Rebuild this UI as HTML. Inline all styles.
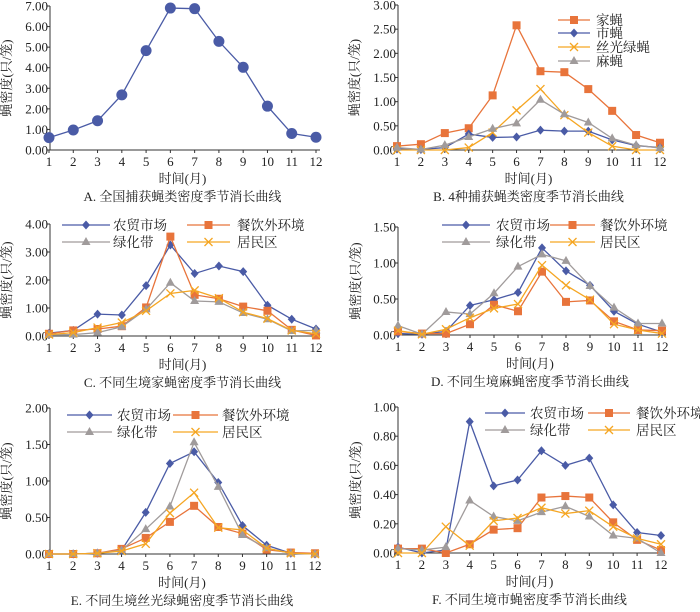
<!DOCTYPE html>
<html><head><meta charset="utf-8"><style>
body{margin:0;background:#fff;width:700px;height:607px;overflow:hidden}
text{font-family:"Liberation Serif","Noto Serif CJK SC",serif;fill:#222}
</style></head><body>
<svg id="c" width="700" height="607"></svg>
<script>
const months=[1,2,3,4,5,6,7,8,9,10,11,12];
const aAll=[0.6,0.97,1.42,2.68,4.83,6.9,6.87,5.28,4.02,2.13,0.8,0.62];
const bHouse=[0.08,0.12,0.35,0.45,1.13,2.58,1.63,1.61,1.26,0.81,0.31,0.15];
const bMarket=[0.02,0.01,0.05,0.33,0.26,0.27,0.41,0.39,0.39,0.21,0.09,0.05];
const bGreen=[0,0,0,0.05,0.36,0.82,1.26,0.72,0.36,0.08,0,0];
const bFlesh=[0.05,0.01,0.1,0.27,0.44,0.55,1.04,0.74,0.57,0.24,0.1,0.04];
const cMarket=[0.1,0.2,0.78,0.75,1.8,3.25,2.23,2.5,2.3,1.1,0.6,0.25];
const cFood=[0.08,0.2,0.25,0.35,1.02,3.55,1.47,1.33,1.05,0.9,0.22,0.02];
const cBelt=[0.05,0.05,0.12,0.33,0.95,1.9,1.25,1.22,0.82,0.6,0.18,0.2];
const cResid=[0.05,0.12,0.3,0.48,0.9,1.52,1.63,1.35,0.85,0.62,0.2,0.08];
const dMarket=[0.02,0.01,0.05,0.41,0.49,0.59,1.21,0.89,0.69,0.33,0.15,0.04];
const dFood=[0.05,0.02,0.02,0.15,0.42,0.33,0.88,0.46,0.48,0.19,0.07,0.06];
const dBelt=[0.13,0.01,0.32,0.29,0.58,0.95,1.12,1.03,0.68,0.38,0.16,0.16];
const dResid=[0.06,0.01,0.08,0.24,0.37,0.43,0.97,0.69,0.49,0.15,0.07,0.02];
const eMarket=[0,0,0.01,0.05,0.57,1.24,1.4,0.98,0.39,0.12,0.01,0];
const eFood=[0,0,0.01,0.07,0.22,0.44,0.66,0.37,0.28,0.06,0.02,0.01];
const eBelt=[0,0,0.01,0.05,0.34,0.65,1.53,0.92,0.26,0.08,0.01,0];
const eResid=[0,0,0.01,0.04,0.14,0.56,0.84,0.36,0.33,0.08,0.01,0];
const fMarket=[0.04,0.0,0.02,0.9,0.46,0.5,0.7,0.6,0.65,0.33,0.14,0.12];
const fFood=[0.03,0.03,0.0,0.06,0.16,0.17,0.38,0.39,0.38,0.21,0.09,0.02];
const fBelt=[0.03,0.02,0.04,0.36,0.25,0.22,0.28,0.32,0.25,0.12,0.1,0.0];
const fResid=[0,0,0.18,0.05,0.22,0.24,0.31,0.27,0.29,0.18,0.1,0.06];
const ticksA=[0,1,2,3,4,5,6,7];
const ticksB=[0,0.5,1,1.5,2,2.5,3];
const ticksC=[0,1,2,3,4];
const ticksD=[0,0.5,1,1.5];
const ticksE=[0,0.5,1,1.5,2];
const ticksF=[0,0.2,0.4,0.6,0.8,1];

const BLUE='#4a5ba6',ORG='#e8743b',GRAY='#a09b9b',YEL='#f5a623';
const NS='http://www.w3.org/2000/svg';
const svg=document.getElementById('c');
function el(t,a,p){const e=document.createElementNS(NS,t);for(const k in a)e.setAttribute(k,a[k]);(p||svg).appendChild(e);return e;}
function marker(g,type,x,y,col,big){
  let m;
  if(type==='circle'){m=el('circle',{cx:x,cy:y,r:big?5.5:4,fill:col},g);}
  else if(type==='square'){m=el('rect',{x:x-4,y:y-4,width:8,height:8,fill:col},g);}
  else if(type==='diamond'){m=el('polygon',{points:`${x},${y-4.5} ${x+4},${y} ${x},${y+4.5} ${x-4},${y}`,fill:col},g);}
  else if(type==='tri'){m=el('polygon',{points:`${x},${y-5} ${x+4.5},${y+3} ${x-4.5},${y+3}`,fill:col},g);}
  else {m=el('path',{d:`M${x-4},${y-4}L${x+4},${y+4}M${x+4},${y-4}L${x-4},${y+4}`,stroke:col,'stroke-width':1.3,fill:'none'},g);}
  return m;
}
function panel(p){
  const g=el('g',{});
  
  
  const X=v=>p.x1+(v-1)*(p.x12-p.x1)/11;
  const Y=v=>p.y0-(v/p.max)*(p.y0-p.yTop);
  const ax=el('path',{d:`M${p.ax},${p.yTop}V${p.y0}H${p.x12+4}`,stroke:'#333','stroke-width':1,fill:'none'},g);
  
  
  p.ticks.forEach(t=>{
    el('line',{x1:p.ax-3,x2:p.ax,y1:Y(t),y2:Y(t),stroke:'#333'},g);
    const tx=el('text',{x:p.ax-2,y:Y(t)+4.5,'text-anchor':'end','font-size':13},g);
    tx.textContent=t.toFixed(2);
    
    
  });
  months.forEach(m=>{
    el('line',{x1:X(m),x2:X(m),y1:p.y0,y2:p.y0+3,stroke:'#333'},g);
    const tx=el('text',{x:X(m),y:p.y0+16,'text-anchor':'middle','font-size':13},g);
    tx.textContent=m;
    
    
  });
  const xt=el('text',{x:(p.x1+p.x12)/2,y:p.y0+33,'text-anchor':'middle','font-size':13},g);
  xt.textContent='时间(月)';
  
  
  const cx=p.x1-38;
  const yt=el('text',{x:0,y:0,'text-anchor':'middle','font-size':13,transform:`translate(${cx},${(p.y0+p.yTop)/2}) rotate(-90)`},g);
  yt.textContent='蝇密度(只/笼)';
  
  
  const cap=el('text',{x:(p.x1+p.x12)/2,y:p.y0+51,'text-anchor':'middle','font-size':13},g);
  cap.textContent=p.caption;
  
  
  p.series.forEach(s=>{
    const sg=el('g',{},g);
    
    
    el('polyline',{points:s.data.map((v,i)=>X(months[i])+','+Y(v)).join(' '),fill:'none',stroke:s.col,'stroke-width':1.3},sg);
    s.data.forEach((v,i)=>{const mk=marker(sg,s.mk,X(months[i]),Y(v),s.col,p.big);
      
      });
    if(s.leg){
      const lg=el('g',{},g);
      
      
      const [lx1,lx2,ly,tx]=s.leg;
      el('line',{x1:lx1,x2:lx2,y1:ly,y2:ly,stroke:s.col,'stroke-width':1.3},lg);
      marker(lg,s.mk,(lx1+lx2)/2,ly,s.col);
      const t=el('text',{x:tx,y:ly+5,'font-size':13.5},lg);
      t.textContent=s.label;
    }
  });
}
panel({name:'panel-a',ax:50,x1:49,x12:316,y0:150,yTop:6,max:7,ticks:ticksA,big:true,caption:'A. 全国捕获蝇类密度季节消长曲线',
  series:[{key:'all',data:aAll,col:BLUE,mk:'circle'}]});
panel({name:'panel-b',ax:398,x1:397,x12:660,y0:150,yTop:5,max:3,ticks:ticksB,caption:'B. 4种捕获蝇类密度季节消长曲线',
  series:[{key:'house',label:'家蝇',data:bHouse,col:ORG,mk:'square',leg:[558,590,20,596]},
  {key:'market',label:'市蝇',data:bMarket,col:BLUE,mk:'diamond',leg:[558,590,33,596]},
  {key:'green',label:'丝光绿蝇',data:bGreen,col:YEL,mk:'x',leg:[558,590,47,596]},
  {key:'flesh',label:'麻蝇',data:bFlesh,col:GRAY,mk:'tri',leg:[558,590,61,596]}]});
function four(m,f,b,r,L){return [
  {key:'market',label:'农贸市场',data:m,col:BLUE,mk:'diamond',leg:[L[0],L[1],L[4],L[2]]},
  {key:'food',label:'餐饮外环境',data:f,col:ORG,mk:'square',leg:[L[5],L[6],L[4],L[7]]},
  {key:'belt',label:'绿化带',data:b,col:GRAY,mk:'tri',leg:[L[0],L[1],L[8],L[2]]},
  {key:'resid',label:'居民区',data:r,col:YEL,mk:'x',leg:[L[5],L[6],L[8],L[7]]}];}
panel({name:'panel-c',ax:50,x1:49,x12:316,y0:336,yTop:224,max:4,ticks:ticksC,caption:'C. 不同生境家蝇密度季节消长曲线',
  series:four(cMarket,cFood,cBelt,cResid,[62,110,113,0,225,187,230,237,242])});
panel({name:'panel-d',ax:398,x1:398,x12:662,y0:335,yTop:227,max:1.5,ticks:ticksD,caption:'D. 不同生境麻蝇密度季节消长曲线',
  series:four(dMarket,dFood,dBelt,dResid,[442,490,496,0,225,550,595,600,242])});
panel({name:'panel-e',ax:50,x1:49,x12:315,y0:554,yTop:408,max:2,ticks:ticksE,caption:'E. 不同生境丝光绿蝇密度季节消长曲线',
  series:four(eMarket,eFood,eBelt,eResid,[67,112,117,0,415,173,218,222,432])});
panel({name:'panel-f',ax:398,x1:398,x12:661,y0:553,yTop:407,max:1,ticks:ticksF,caption:'F. 不同生境市蝇密度季节消长曲线',
  series:four(fMarket,fFood,fBelt,fResid,[485,525,530,0,413,588,630,636,430])});
</script>
</body></html>
